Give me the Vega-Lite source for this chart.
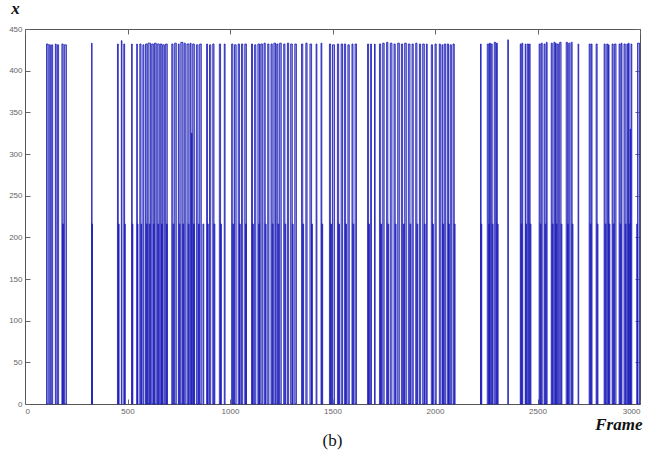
{
  "$schema": "https://vega.github.io/schema/vega-lite/v6.json",
  "width": 615,
  "height": 375,
  "autosize": {"type": "none"},
  "padding": {"left": 25, "top": 29, "right": 9, "bottom": 53},
  "background": "white",
  "title": {"text": "(b)", "orient": "bottom", "anchor": "middle", "font": "Liberation Serif", "fontSize": 17, "fontWeight": "normal", "color": "#111", "offset": 1},
  "config": {
    "view": {"stroke": "#555", "strokeWidth": 1},
    "axis": {"labelFont": "Liberation Sans", "labelFontSize": 8, "labelColor": "#666", "tickColor": "#666", "grid": false, "domain": false}
  },
  "data": {"values": [
    {"s":105,"e":113,"h":432},{"s":118,"e":124,"h":431},{"s":130,"e":135,"h":431},{"s":148,"e":152,"h":432},{"s":158,"e":164,"h":431},{"s":180,"e":186,"h":432},{"s":192,"e":202,"h":431},
    {"s":325,"e":327,"h":433},
    {"s":451,"e":455,"h":432},{"s":470,"e":473,"h":436},{"s":482,"e":486,"h":432},{"s":520,"e":523,"h":432},{"s":545,"e":548,"h":432},
    {"s":560,"e":566,"h":432},{"s":575,"e":580,"h":431},{"s":588,"e":596,"h":432},{"s":600,"e":612,"h":433},{"s":618,"e":626,"h":432},{"s":632,"e":640,"h":433},{"s":645,"e":655,"h":432},{"s":660,"e":668,"h":432},{"s":672,"e":680,"h":431},{"s":686,"e":694,"h":432},
    {"s":716,"e":722,"h":432},{"s":730,"e":738,"h":433},{"s":748,"e":752,"h":432},{"s":760,"e":770,"h":434},{"s":776,"e":782,"h":433},{"s":790,"e":800,"h":432},{"s":806,"e":810,"h":433},{"s":818,"e":826,"h":432},{"s":836,"e":844,"h":431},{"s":852,"e":860,"h":432},
    {"s":886,"e":890,"h":432},{"s":900,"e":906,"h":431},{"s":916,"e":922,"h":432},{"s":948,"e":954,"h":432},{"s":972,"e":976,"h":432},
    {"s":1008,"e":1014,"h":432},{"s":1022,"e":1030,"h":431},{"s":1040,"e":1046,"h":432},{"s":1056,"e":1062,"h":432},{"s":1072,"e":1080,"h":432},
    {"s":1105,"e":1110,"h":432},{"s":1120,"e":1126,"h":431},{"s":1136,"e":1144,"h":432},{"s":1150,"e":1158,"h":432},{"s":1166,"e":1172,"h":433},{"s":1184,"e":1190,"h":432},{"s":1200,"e":1206,"h":432},{"s":1214,"e":1222,"h":433},{"s":1228,"e":1234,"h":432},
    {"s":1242,"e":1250,"h":433},{"s":1262,"e":1268,"h":432},{"s":1280,"e":1286,"h":433},{"s":1296,"e":1304,"h":432},{"s":1316,"e":1324,"h":432},
    {"s":1349,"e":1355,"h":432},{"s":1370,"e":1376,"h":433},{"s":1390,"e":1398,"h":432},{"s":1420,"e":1424,"h":432},{"s":1444,"e":1448,"h":433},
    {"s":1485,"e":1491,"h":432},{"s":1500,"e":1510,"h":431},{"s":1524,"e":1530,"h":432},{"s":1542,"e":1549,"h":432},{"s":1558,"e":1564,"h":432},{"s":1575,"e":1582,"h":431},{"s":1595,"e":1600,"h":432},{"s":1610,"e":1617,"h":432},
    {"s":1671,"e":1676,"h":432},{"s":1686,"e":1690,"h":432},{"s":1705,"e":1708,"h":432},
    {"s":1729,"e":1735,"h":432},{"s":1745,"e":1752,"h":433},{"s":1764,"e":1770,"h":434},{"s":1782,"e":1790,"h":433},{"s":1800,"e":1806,"h":432},{"s":1818,"e":1826,"h":433},{"s":1836,"e":1842,"h":432},{"s":1852,"e":1860,"h":433},{"s":1870,"e":1878,"h":432},{"s":1888,"e":1894,"h":432},{"s":1906,"e":1912,"h":433},{"s":1924,"e":1930,"h":432},{"s":1940,"e":1948,"h":432},
    {"s":1958,"e":1962,"h":432},{"s":1982,"e":1988,"h":431},{"s":2000,"e":2006,"h":432},{"s":2021,"e":2026,"h":432},{"s":2034,"e":2038,"h":431},{"s":2045,"e":2052,"h":432},{"s":2060,"e":2066,"h":432},{"s":2074,"e":2080,"h":431},{"s":2088,"e":2094,"h":432},
    {"s":2222,"e":2225,"h":432},
    {"s":2255,"e":2262,"h":432},{"s":2266,"e":2270,"h":433},{"s":2274,"e":2279,"h":432},{"s":2289,"e":2296,"h":434},{"s":2300,"e":2304,"h":433},
    {"s":2355,"e":2358,"h":437},
    {"s":2416,"e":2420,"h":432},{"s":2424,"e":2428,"h":433},{"s":2440,"e":2443,"h":432},{"s":2450,"e":2456,"h":432},{"s":2460,"e":2464,"h":432},
    {"s":2508,"e":2513,"h":432},{"s":2518,"e":2523,"h":433},{"s":2532,"e":2537,"h":432},{"s":2543,"e":2547,"h":434},{"s":2567,"e":2572,"h":433},{"s":2580,"e":2585,"h":434},{"s":2588,"e":2591,"h":433},{"s":2596,"e":2602,"h":432},{"s":2608,"e":2615,"h":434},
    {"s":2640,"e":2646,"h":434},{"s":2652,"e":2658,"h":433},{"s":2664,"e":2669,"h":434},{"s":2698,"e":2701,"h":432},
    {"s":2752,"e":2757,"h":432},{"s":2762,"e":2766,"h":432},{"s":2786,"e":2791,"h":432},{"s":2825,"e":2830,"h":432},{"s":2838,"e":2843,"h":432},{"s":2846,"e":2849,"h":431},{"s":2864,"e":2869,"h":432},{"s":2876,"e":2883,"h":432},{"s":2898,"e":2903,"h":432},{"s":2908,"e":2912,"h":433},{"s":2922,"e":2928,"h":432},{"s":2936,"e":2940,"h":432},{"s":2944,"e":2947,"h":433},{"s":2956,"e":2960,"h":432},{"s":2988,"e":2998,"h":433},
    {"s":812,"e":815,"h":325},{"s":2952,"e":2954,"h":330},
    {"s":183,"e":188,"h":216},{"s":326,"e":329,"h":216},{"s":456,"e":459,"h":216},{"s":486,"e":489,"h":216},{"s":523,"e":526,"h":216},{"s":548,"e":551,"h":216},{"s":566,"e":569,"h":216},{"s":592,"e":596,"h":216},{"s":606,"e":610,"h":216},{"s":626,"e":630,"h":216},{"s":648,"e":652,"h":216},{"s":666,"e":670,"h":216},{"s":690,"e":694,"h":216},
    {"s":722,"e":726,"h":216},{"s":752,"e":756,"h":216},{"s":770,"e":774,"h":216},{"s":796,"e":800,"h":216},{"s":822,"e":826,"h":216},{"s":846,"e":850,"h":216},{"s":868,"e":872,"h":216},{"s":890,"e":894,"h":216},{"s":922,"e":926,"h":216},{"s":954,"e":958,"h":216},
    {"s":1014,"e":1018,"h":216},{"s":1046,"e":1050,"h":216},{"s":1076,"e":1080,"h":216},{"s":1110,"e":1114,"h":216},{"s":1140,"e":1144,"h":216},{"s":1172,"e":1176,"h":216},{"s":1206,"e":1210,"h":216},{"s":1234,"e":1238,"h":216},{"s":1268,"e":1272,"h":216},{"s":1304,"e":1308,"h":216},{"s":1355,"e":1359,"h":216},{"s":1398,"e":1402,"h":216},{"s":1448,"e":1452,"h":216},
    {"s":1491,"e":1495,"h":216},{"s":1530,"e":1534,"h":216},{"s":1564,"e":1568,"h":216},{"s":1600,"e":1604,"h":216},{"s":1676,"e":1680,"h":216},{"s":1735,"e":1739,"h":216},{"s":1770,"e":1774,"h":216},{"s":1806,"e":1810,"h":216},{"s":1846,"e":1850,"h":216},{"s":1878,"e":1882,"h":216},{"s":1912,"e":1916,"h":216},{"s":1948,"e":1952,"h":216},
    {"s":1988,"e":1992,"h":216},{"s":2038,"e":2042,"h":216},{"s":2066,"e":2070,"h":216},{"s":2094,"e":2098,"h":216},{"s":2225,"e":2228,"h":216},{"s":2262,"e":2266,"h":216},{"s":2279,"e":2283,"h":216},{"s":2304,"e":2308,"h":216},
    {"s":2420,"e":2424,"h":216},{"s":2443,"e":2447,"h":216},{"s":2464,"e":2468,"h":216},{"s":2513,"e":2517,"h":216},{"s":2537,"e":2541,"h":216},{"s":2572,"e":2576,"h":216},{"s":2591,"e":2595,"h":216},{"s":2615,"e":2619,"h":216},{"s":2646,"e":2650,"h":216},{"s":2669,"e":2673,"h":216},
    {"s":2757,"e":2761,"h":216},{"s":2791,"e":2795,"h":216},{"s":2830,"e":2834,"h":216},{"s":2849,"e":2853,"h":216},{"s":2869,"e":2873,"h":216},{"s":2903,"e":2907,"h":216},{"s":2928,"e":2932,"h":216},{"s":2947,"e":2951,"h":216},{"s":2984,"e":2988,"h":216}
  ]},
  "layer": [
    {
      "mark": {"type": "rect", "fill": "#6f73c4", "fillOpacity": 0.65, "stroke": "#1616b8", "strokeWidth": 0.9, "strokeOpacity": 0.9},
      "encoding": {
        "x": {"field": "s", "type": "quantitative", "scale": {"domain": [0, 3000], "nice": false, "zero": false},
          "axis": {"orient": "bottom", "values": [0,500,1000,1500,2000,2500,3000], "format": "d", "tickSize": -5, "labelPadding": 8,
            "title": "Frame", "titleFont": "Liberation Serif", "titleFontSize": 17, "titleFontWeight": "bold", "titleFontStyle": "italic", "titleColor": "#111",
            "titleAnchor": "end", "titleAlign": "right", "titleX": 617, "titleY": 12}},
        "x2": {"field": "e"},
        "y": {"field": "h", "type": "quantitative", "scale": {"domain": [0, 450], "nice": false},
          "axis": {"orient": "left", "values": [0,50,100,150,200,250,300,350,400,450], "tickSize": -5, "labelPadding": 8,
            "title": "x", "titleAngle": 0, "titleFont": "Liberation Serif", "titleFontSize": 17, "titleFontWeight": "bold", "titleFontStyle": "italic", "titleColor": "#111",
            "titleX": -10, "titleY": -16, "titleAlign": "center", "titleBaseline": "alphabetic"}},
        "y2": {"datum": 0}
      }
    },
    {
      "mark": {"type": "rect", "opacity": 0},
      "encoding": {
        "x": {"field": "s", "type": "quantitative", "scale": {"domain": [0, 3000], "nice": false, "zero": false},
          "axis": {"orient": "top", "values": [0,500,1000,1500,2000,2500,3000], "tickSize": -5, "labels": false, "title": null}},
        "x2": {"field": "e"},
        "y": {"field": "h", "type": "quantitative", "scale": {"domain": [0, 450], "nice": false},
          "axis": {"orient": "right", "values": [0,50,100,150,200,250,300,350,400,450], "tickSize": -5, "labels": false, "title": null}},
        "y2": {"datum": 0}
      }
    }
  ],
  "resolve": {"axis": {"x": "independent", "y": "independent"}}
}
